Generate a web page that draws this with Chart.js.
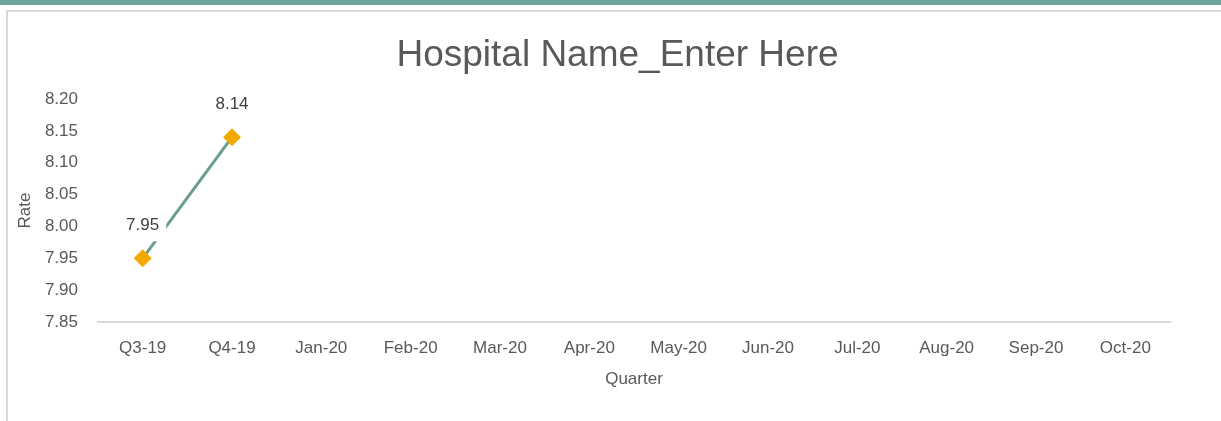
<!DOCTYPE html>
<html>
<head>
<meta charset="utf-8">
<script src="https://cdn.jsdelivr.net/npm/chart.js@4"></script>
<style>
  html, body { margin: 0; padding: 0; background: #fff; }
  #wrap { position: relative; width: 1221px; height: 421px; overflow: hidden; }
  #topbar { position: absolute; left: 0; top: 0; width: 1221px; height: 5px; background: #6fa59c; }
  #frame { position: absolute; left: 6px; top: 10px; width: 1230px; height: 430px; border: 2px solid #d9d9d9; box-sizing: border-box; }
  #canvas { position: absolute; left: 0; top: 0; }
</style>
</head>
<body>
<div id="wrap">
  <div id="topbar"></div>
  <div id="frame"></div>
  <canvas id="canvas" width="1221" height="421"></canvas>
</div>
<script>
const quarters = ['Q3-19','Q4-19','Jan-20','Feb-20','Mar-20','Apr-20','May-20','Jun-20','Jul-20','Aug-20','Sep-20','Oct-20']
const rates = [7.95, 8.14, null, null, null, null, null, null, null, null, null, null]
const yTicks = [7.85, 7.90, 7.95, 8.00, 8.05, 8.10, 8.15, 8.20]

const fontFamily = '"Liberation Sans", Arial, sans-serif'
const grey = '#595959'

// value labels above the points, with a white box behind them
const valueLabels = {
    id: 'valueLabels',
    afterDatasetsDraw(chart) {
        const ctx = chart.ctx
        const meta = chart.getDatasetMeta(0)
        ctx.save()
        ctx.font = '17px ' + fontFamily
        ctx.textAlign = 'center'
        ctx.textBaseline = 'middle'
        meta.data.forEach((pt, i) => {
            if (rates[i] == null) return
            const txt = rates[i].toFixed(2)
            const w = ctx.measureText(txt).width + 14
            const y = pt.y - 33
            ctx.fillStyle = '#fff'
            ctx.fillRect(pt.x - w / 2, y - 15, w, 31)
            ctx.fillStyle = '#404040'
            ctx.fillText(txt, pt.x, y)
        })
        ctx.restore()
    }
}

const data = {
    labels: quarters,
    datasets: [
        {
            label: 'Rate',
            data: rates,
            borderColor: '#6a9f87',
            borderWidth: 3,
            backgroundColor: '#f2a900',
            pointStyle: 'rectRot',
            pointRadius: 8.5,
            pointBorderWidth: 1,
            pointBorderColor: '#f2a900',
            pointBackgroundColor: '#f2a900',
            tension: 0,
            spanGaps: false,
        },
    ],
}

const config = {
    type: 'line',
    data: data,
    plugins: [valueLabels],
    options: {
        responsive: false,
        animation: false,
        layout: { padding: { left: 14, top: 10, right: 0, bottom: 0 } },
        plugins: {
            legend: { display: false },
            tooltip: { enabled: false },
            title: {
                display: true,
                text: 'Hospital Name_Enter Here',
                color: grey,
                font: { family: fontFamily, size: 37, weight: 'normal' },
                padding: { top: 24, bottom: 20.6 },
            },
        },
        scales: {
            x: {
                offset: true,
                grid: { display: false, drawTicks: false },
                border: { display: true, color: '#d9d9d9', width: 2 },
                ticks: { color: grey, font: { family: fontFamily, size: 17 }, padding: 16, maxRotation: 0, autoSkip: false },
                title: { display: true, text: 'Quarter', color: grey, font: { family: fontFamily, size: 17 }, padding: { top: 0, bottom: 31 } },
                afterFit: s => { s.height = 99 },
            },
            y: {
                min: 7.85,
                max: 8.20,
                grid: { display: false, drawTicks: false },
                border: { display: false },
                afterBuildTicks: s => { s.ticks = yTicks.map(v => ({ value: v })) },
                ticks: { color: grey, font: { family: fontFamily, size: 17 }, padding: 20, callback: v => Number(v).toFixed(2) },
                title: { display: true, text: 'Rate', color: grey, font: { family: fontFamily, size: 17 }, padding: { top: 1, bottom: 0 } },
                afterFit: s => { s.width = 84 },
            },
            y2: {
                position: 'right',
                display: true,
                grid: { display: false, drawTicks: false },
                border: { display: false },
                ticks: { display: false },
                afterFit: s => { s.width = 51 },
            },
        },
    },
}

const canvas = document.getElementById('canvas')
const chart = new Chart(canvas, config)
</script>
</body>
</html>
